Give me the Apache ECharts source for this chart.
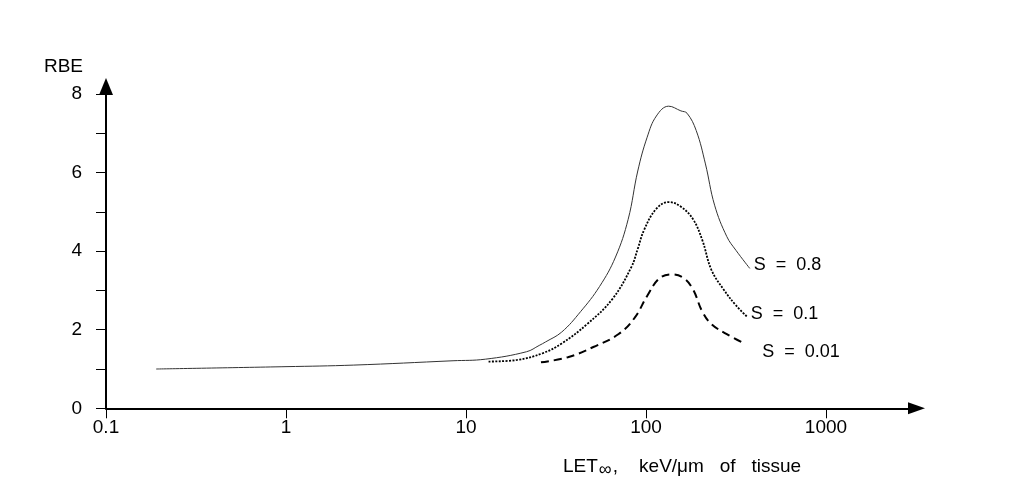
<!DOCTYPE html>
<html>
<head>
<meta charset="utf-8">
<script src="https://cdn.jsdelivr.net/npm/echarts@6/dist/echarts.min.js"></script>
<style>
html,body{margin:0;padding:0;background:#fff;}
#c{width:1020px;height:490px;}
</style>
</head>
<body>
<div id="c"></div>
<script>
// LET (keV/um) and RBE values
const let08 = [0.19, 1, 2.38, 8.47, 12.8, 21.7, 25.5, 27.7, 34.0, 43.3, 55.2, 67.7, 79.6, 90.0, 101.5, 114.2, 133.6, 156.3, 169.1, 190.1, 213.9, 240.5, 281.2, 316.2, 377.2];
const rbe08 = [1.00, 1.06, 1.10, 1.21, 1.25, 1.44, 1.60, 1.69, 1.94, 2.46, 3.10, 3.85, 4.81, 6.04, 6.90, 7.44, 7.69, 7.57, 7.51, 7.07, 6.22, 5.17, 4.37, 4.02, 3.56];
const let01 = [13.35, 19.2, 26.6, 34.0, 47.0, 65.0, 83.0, 90.0, 97.6, 114.2, 133.6, 156.3, 182.7, 205.5, 231.1, 270.4, 316.2, 362.8];
const rbe01 = [1.19, 1.23, 1.40, 1.65, 2.14, 2.78, 3.60, 4.06, 4.54, 5.08, 5.25, 5.13, 4.81, 4.28, 3.52, 3.02, 2.62, 2.34];
const let001 = [26.1, 36.8, 51.0, 70.5, 86.4, 101.5, 118.9, 139.0, 162.4, 182.7, 205.5, 231.1, 281.2, 351.6];
const rbe001 = [1.17, 1.30, 1.56, 1.89, 2.30, 2.86, 3.31, 3.41, 3.31, 3.02, 2.46, 2.14, 1.89, 1.65];
const seriesNames = ['S  =  0.8', 'S  =  0.1', 'S  =  0.01'];
const yTickLabels = [0, 2, 4, 6, 8];
const xTickLabels = ['0.1', '1', '10', '100', '1000'];

const FONT = 'Liberation Sans';
const pairs = (xs, ys) => xs.map((x, i) => [x, ys[i]]);

const chart = echarts.init(document.getElementById('c'), null, {renderer: 'canvas'});
chart.setOption({
  animation: false,
  textStyle: {fontFamily: FONT, color: '#000'},
  grid: [
    {left: 106, top: 94, right: 194, bottom: 81.7},
    {left: 106, top: 86.5, right: 103.5, bottom: 81.7}
  ],
  xAxis: [
    {
      type: 'log', gridIndex: 0, min: 0.1, max: 1000, logBase: 10,
      axisLine: {show: false},
      axisTick: {show: true, inside: false, length: 10, lineStyle: {color: '#000', width: 1}},
      axisLabel: {
        fontSize: 19, color: '#000', fontFamily: FONT, margin: 10,
        formatter: v => { const s = String(+v.toPrecision(3)); return xTickLabels.indexOf(s) >= 0 ? s : ''; }
      },
      splitLine: {show: false}
    },
    {
      type: 'value', gridIndex: 1, min: 0, max: 1,
      axisLine: {show: true, lineStyle: {color: '#000', width: 2}, symbol: ['none', 'triangle'], symbolSize: [12, 17]},
      axisTick: {show: false}, axisLabel: {show: false}, splitLine: {show: false}
    }
  ],
  yAxis: [
    {
      type: 'value', gridIndex: 0, min: 0, max: 8, interval: 1,
      axisLine: {show: false},
      axisTick: {show: true, length: 10, lineStyle: {color: '#000', width: 1}},
      axisLabel: {
        fontSize: 19, color: '#000', fontFamily: FONT, margin: 24,
        formatter: v => (yTickLabels.indexOf(v) >= 0 ? String(v) : '')
      },
      splitLine: {show: false}
    },
    {
      type: 'value', gridIndex: 1, min: 0, max: 1,
      axisLine: {show: true, lineStyle: {color: '#000', width: 2}, symbol: ['none', 'triangle'], symbolSize: [14, 17]},
      axisTick: {show: false}, axisLabel: {show: false}, splitLine: {show: false}
    }
  ],
  graphic: [
    {type: 'text', x: 83, y: 67, style: {text: 'RBE', fontSize: 19, fontFamily: FONT, fill: '#000', align: 'right', verticalAlign: 'middle'}},
    {type: 'text', x: 563, y: 467, style: {
      text: 'LET{sub|∞},    keV/μm   of   tissue', fontSize: 19, fontFamily: FONT, fill: '#000', verticalAlign: 'middle',
      rich: {sub: {fontSize: 18, fontFamily: FONT, fill: '#000', padding: [6, 1, 0, 1]}}
    }}
  ],
  series: [
    {
      name: seriesNames[0], type: 'line', xAxisIndex: 0, yAxisIndex: 0, data: pairs(let08, rbe08),
      smooth: 0.4, showSymbol: false, lineStyle: {color: '#333', width: 1},
      endLabel: {show: true, formatter: seriesNames[0], fontSize: 18, fontFamily: FONT, color: '#000', distance: 4, offset: [0, -3]}
    },
    {
      name: seriesNames[1], type: 'line', xAxisIndex: 0, yAxisIndex: 0, data: pairs(let01, rbe01),
      smooth: 0.4, showSymbol: false, lineStyle: {color: '#000', width: 1.8, type: [2, 1.4]},
      endLabel: {show: true, formatter: seriesNames[1], fontSize: 18, fontFamily: FONT, color: '#000', distance: 4, offset: [0, -2]}
    },
    {
      name: seriesNames[2], type: 'line', xAxisIndex: 0, yAxisIndex: 0, data: pairs(let001, rbe001),
      smooth: 0.4, showSymbol: false, lineStyle: {color: '#000', width: 2, type: [8, 5]},
      endLabel: {show: true, formatter: seriesNames[2], fontSize: 18, fontFamily: FONT, color: '#000', distance: 18, offset: [0, 9]}
    }
  ]
});
</script>
</body>
</html>
